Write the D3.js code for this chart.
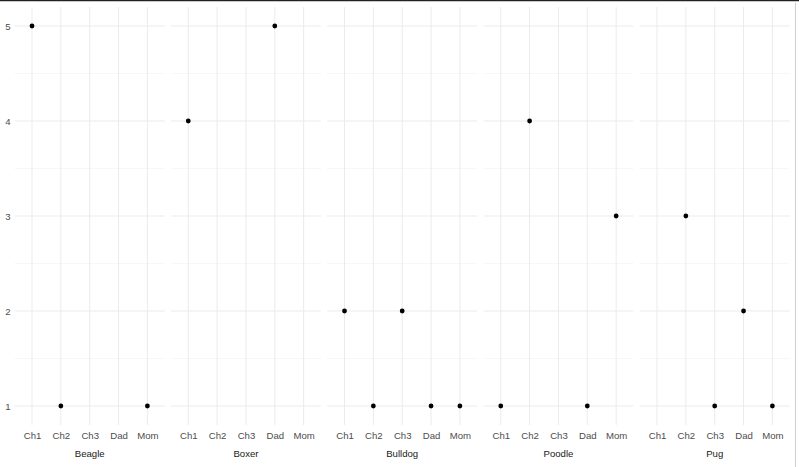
<!DOCTYPE html>
<html><head><meta charset="utf-8">
<script src="https://cdn.jsdelivr.net/npm/d3@7"></script>
<style>body{margin:0;background:#fff}svg{display:block}</style>
</head><body>
<script>
const breeds = ["Beagle","Boxer","Bulldog","Poodle","Pug"];
const members = ["Ch1","Ch2","Ch3","Dad","Mom"];
const yTicks = [1,2,3,4,5];
const beagle = [["Ch1",5],["Ch2",1],["Mom",1]];
const boxer = [["Ch1",4],["Dad",5]];
const bulldog = [["Ch1",2],["Ch2",1],["Ch3",2],["Dad",1],["Mom",1]];
const poodle = [["Ch1",1],["Ch2",4],["Dad",1],["Mom",3]];
const pug = [["Ch2",3],["Ch3",1],["Dad",2],["Mom",1]];
const seriesByBreed = {Beagle:beagle, Boxer:boxer, Bulldog:bulldog, Poodle:poodle, Pug:pug};

const W = 799, H = 467;
const svg = d3.select("body").append("svg").attr("width",W).attr("height",H);
svg.append("rect").attr("width",W).attr("height",H).attr("fill","#fff");

const panelLeft = 14.7, panelW = 150, gap = 6.25, pTop = 7, pBottom = 425;
const y = d3.scaleLinear().domain([0.8,5.2]).range([pBottom, pTop]);
const minorY = [1.5,2.5,3.5,4.5];

breeds.forEach((b,i) => {
  const x0 = panelLeft + i*(panelW+gap);
  const x = d3.scalePoint().domain(members).range([x0, x0+panelW]).padding(0.6);
  const g = svg.append("g");
  g.selectAll("line.minor").data(minorY).join("line")
    .attr("x1",x0).attr("x2",x0+panelW).attr("y1",d=>y(d)).attr("y2",d=>y(d))
    .attr("stroke","#f2f2f2").attr("stroke-width",0.6);
  g.selectAll("line.majy").data(yTicks).join("line")
    .attr("x1",x0).attr("x2",x0+panelW).attr("y1",d=>y(d)).attr("y2",d=>y(d))
    .attr("stroke","#ebebeb").attr("stroke-width",1);
  g.selectAll("line.majx").data(members).join("line")
    .attr("x1",d=>x(d)).attr("x2",d=>x(d)).attr("y1",pTop).attr("y2",pBottom)
    .attr("stroke","#ebebeb").attr("stroke-width",1);
  g.selectAll("circle").data(seriesByBreed[b]).join("circle")
    .attr("cx",d=>x(d[0])).attr("cy",d=>y(d[1])).attr("r",2.4).attr("fill","#000");
  const ax = g.append("g").attr("transform",`translate(0,${pBottom})`)
    .call(d3.axisBottom(x).tickSize(0).tickPadding(7));
  ax.select(".domain").remove();
  ax.selectAll("text").attr("fill","#4d4d4d").style("font-family","Arial, 'Liberation Sans', sans-serif").style("font-size","9.6px");
  g.append("text").attr("x",x0+panelW/2).attr("y",457).attr("text-anchor","middle")
    .attr("fill","#1a1a1a").style("font-family","Arial, 'Liberation Sans', sans-serif").style("font-size","9.6px").text(b);
});

const ay = svg.append("g").attr("transform",`translate(${panelLeft},0)`)
  .call(d3.axisLeft(y).tickValues(yTicks).tickFormat(d3.format("d")).tickSize(0).tickPadding(4));
ay.select(".domain").remove();
ay.selectAll("text").attr("fill","#4d4d4d").style("font-family","Arial, 'Liberation Sans', sans-serif").style("font-size","9.6px");

svg.append("line").attr("x1",0).attr("x2",W).attr("y1",0.5).attr("y2",0.5).attr("stroke","#222").attr("stroke-width",1.5);
svg.append("line").attr("x1",795.5).attr("x2",795.5).attr("y1",3).attr("y2",H).attr("stroke","#cfcfcf").attr("stroke-width",1);
</script>
</body></html>
